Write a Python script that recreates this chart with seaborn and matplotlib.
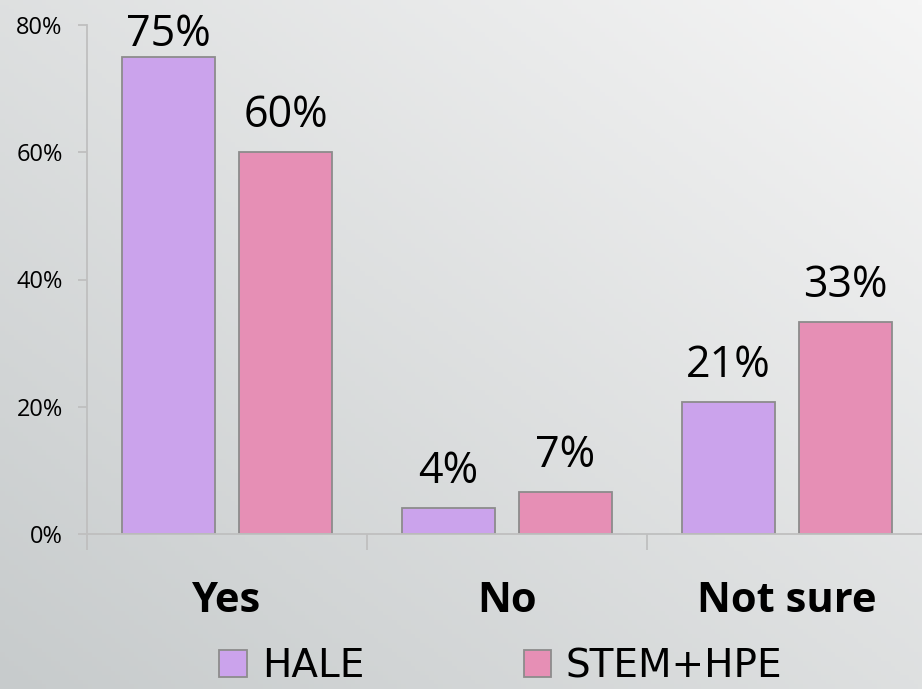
import numpy as np
import pandas as pd
import matplotlib
matplotlib.use("Agg")
import matplotlib.pyplot as plt
import seaborn as sns
from matplotlib.colors import to_rgb

# ---- data ----
categories = ["Yes", "No", "Not sure"]
series_names = ["HALE", "STEM+HPE"]
hale_values = [75.0, 4.1, 20.7]
stem_values = [60.0, 6.6, 33.3]
y_ticks = [0, 20, 40, 60, 80]
y_tick_labels = ["0%", "20%", "40%", "60%", "80%"]

df = pd.DataFrame({
    "category": categories * 2,
    "group": [series_names[0]] * 3 + [series_names[1]] * 3,
    "value": hale_values + stem_values,
})

sns.set_style("ticks")
plt.rcParams["font.family"] = ["Open Sans", "DejaVu Sans"]
plt.rcParams["text.color"] = "black"
plt.rcParams["xtick.labelcolor"] = "black"
plt.rcParams["ytick.labelcolor"] = "black"

W, H = 922, 689
fig = plt.figure(figsize=(W / 100, H / 100), dpi=100)

# gradient background
bg = fig.add_axes([0, 0, 1, 1], zorder=-10)
nx, ny = 200, 150
xs = np.linspace(0, 1, nx)[None, :]
ys = np.linspace(1, 0, ny)[:, None]  # row 0 = top
t = np.clip((xs + ys) / 2.0, 0, 1)
c0 = np.array(to_rgb("#C7CBCC"))
c1 = np.array(to_rgb("#F5F5F5"))
img = c0[None, None, :] * (1 - t[..., None]) + c1[None, None, :] * t[..., None]
bg.imshow(img, extent=[0, 1, 0, 1], aspect="auto", origin="upper")
bg.axis("off")

ax = fig.add_axes([87 / W, (H - 534) / H, 840 / W, 509 / H])
ax.set_facecolor("none")

palette = {"HALE": "#CBA3EC", "STEM+HPE": "#E68FB5"}
sns.barplot(data=df, x="category", y="value", hue="group", order=categories,
            hue_order=series_names, palette=palette, width=0.836, gap=0.2,
            edgecolor="#8C8C8C", linewidth=1.3, saturation=1, ax=ax, legend=True)

ax.set_xlim(-0.5, 2.5)
ax.set_ylim(0, 80)
ax.set_yticks(y_ticks)
ax.set_yticklabels(y_tick_labels, fontsize=17, color="black")
ax.set_xlabel("")
ax.set_ylabel("")

for side in ["top", "right"]:
    ax.spines[side].set_visible(False)
for side in ["left", "bottom"]:
    ax.spines[side].set_color("#BFBFBF")
    ax.spines[side].set_linewidth(1.3)

ax.tick_params(axis="y", length=6.5, width=1.3, color="#BFBFBF", pad=11, labelcolor="black")
ax.set_xticks([0, 1, 2])
ax.set_xticklabels(categories, fontsize=30, fontweight="bold", color="black")
ax.set_xticks([-0.5, 0.5, 1.5, 2.5], minor=True)
ax.tick_params(axis="x", which="major", length=0, pad=34, labelcolor="black")
ax.tick_params(axis="x", which="minor", length=11.5, width=1.3, color="#BFBFBF")

# value labels
for cont in ax.containers:
    for p in cont.patches:
        v = p.get_height()
        off = 8 if v > 70 else 18
        ax.annotate(f"{v:.0f}%", (p.get_x() + p.get_width() / 2, v),
                    xytext=(0, off), textcoords="offset points",
                    ha="center", va="baseline", fontsize=31, color="black",
                    clip_on=False)

handles, labels = ax.get_legend_handles_labels()
ax.get_legend().remove()
leg = fig.legend(handles, labels, loc="center", bbox_to_anchor=(501 / W, (H - 666) / H),
                 ncol=2, frameon=False, prop={"family": "DejaVu Sans", "size": 28},
                 handlelength=0.71, handleheight=0.71, handletextpad=0.38,
                 columnspacing=4.1, borderaxespad=0, borderpad=0)
for txt in leg.get_texts():
    txt.set_color("black")

fig.savefig("out.png", dpi=100)
